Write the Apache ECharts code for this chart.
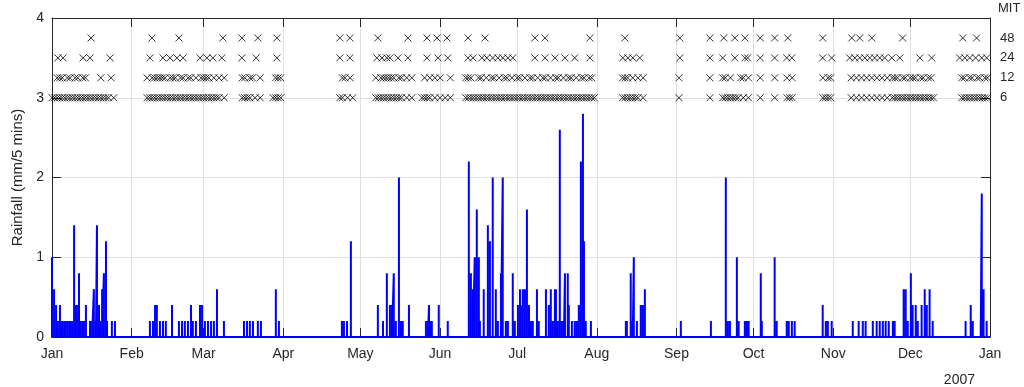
<!DOCTYPE html>
<html>
<head>
<meta charset="utf-8">
<script src="https://cdn.jsdelivr.net/npm/echarts@6/dist/echarts.min.js"></script>
<style>
  html, body { margin: 0; padding: 0; background: #fff; }
  #chart { width: 1024px; height: 387px; }
</style>
</head>
<body>
<div id="chart"></div>
<script>
// day of year 2007 (0 = 1 Jan) and rainfall in mm per 5 minutes
const rainEvents = [
  [0.0, 1.0], [0.8, 0.6], [1.6, 0.4], [2.3, 0.2], [3.1, 0.4], [3.9, 0.2], [4.7, 0.2], [5.4, 0.2],
  [6.2, 0.2], [7.0, 0.2], [7.8, 0.2], [8.6, 1.4], [9.3, 0.4], [9.7, 0.4], [10.5, 0.8], [10.9, 0.2],
  [11.7, 0.2], [12.4, 0.2], [13.2, 0.4], [14.8, 0.2], [15.6, 0.2], [16.3, 0.6], [17.1, 0.2], [17.5, 1.4],
  [18.3, 0.4], [18.7, 0.2], [19.5, 0.6], [20.2, 0.8], [21.0, 1.2], [21.4, 0.2], [23.3, 0.2], [24.5, 0.2],
  [38.1, 0.2], [39.3, 0.2], [40.1, 0.4], [40.8, 0.4], [42.0, 0.2], [43.2, 0.2], [44.3, 0.2], [46.7, 0.4],
  [49.4, 0.2], [50.6, 0.2], [51.7, 0.2], [52.9, 0.2], [54.1, 0.4], [54.8, 0.2], [56.0, 0.2], [57.6, 0.4],
  [58.4, 0.4], [59.5, 0.2], [60.7, 0.2], [61.9, 0.2], [63.0, 0.2], [64.2, 0.6], [66.9, 0.2],
  [74.7, 0.2], [75.9, 0.2], [77.0, 0.2], [78.2, 0.2], [80.1, 0.2], [81.3, 0.2], [87.1, 0.6], [88.3, 0.2],
  [112.8, 0.2], [113.6, 0.2], [114.8, 0.2], [116.3, 1.2],
  [126.8, 0.4], [128.8, 0.2], [130.3, 0.8], [131.5, 0.4], [132.3, 0.4], [133.0, 0.8], [133.8, 0.2],
  [135.0, 2.0], [135.8, 0.2], [136.5, 0.2], [138.9, 0.4], [145.5, 0.2], [146.3, 0.2], [146.7, 0.4],
  [147.4, 0.2], [147.8, 0.2], [150.5, 0.4], [154.0, 0.2],
  [162.2, 2.2], [163.0, 0.8], [163.8, 0.6], [164.5, 1.0], [165.3, 1.6], [166.1, 1.0], [166.5, 0.2],
  [168.0, 0.6], [169.6, 1.4], [170.4, 1.2], [171.5, 2.0], [172.7, 0.6], [173.5, 0.2], [174.7, 0.8],
  [175.4, 2.0], [176.6, 0.2], [177.4, 0.2], [179.3, 0.8], [180.1, 0.2], [181.3, 0.4], [182.1, 0.6],
  [182.4, 0.4], [183.2, 0.6], [184.0, 0.6], [184.8, 1.6], [185.6, 0.4], [186.3, 0.2], [187.1, 0.2],
  [188.7, 0.6], [189.4, 0.2], [192.2, 0.6], [193.3, 0.4], [194.1, 0.6], [194.9, 0.2], [195.7, 0.6],
  [196.1, 0.6], [196.8, 0.2], [197.6, 2.6], [198.4, 0.2], [199.2, 0.2], [199.6, 0.8], [200.7, 0.8],
  [201.1, 0.4], [202.3, 0.2], [203.4, 0.2], [204.2, 0.2], [205.0, 0.4], [205.8, 2.2], [206.6, 2.8],
  [207.0, 1.2], [207.7, 0.2], [209.7, 0.2],
  [223.3, 0.2], [223.7, 0.2], [225.2, 0.8], [226.0, 0.2], [226.4, 1.0], [227.6, 0.2], [229.1, 0.4],
  [229.9, 0.4], [230.7, 0.6], [244.7, 0.2], [256.4, 0.2],
  [262.2, 2.0], [263.0, 0.2], [263.8, 0.2], [266.5, 1.0], [267.2, 0.2], [269.6, 0.2], [270.4, 0.2],
  [271.1, 0.2], [275.8, 0.8], [276.2, 0.2], [281.2, 1.0], [282.0, 0.2], [285.9, 0.2], [286.7, 0.2],
  [287.9, 0.2], [289.0, 0.2],
  [299.9, 0.4], [301.1, 0.2], [301.9, 0.2], [303.4, 0.2], [311.6, 0.2], [313.9, 0.2], [315.5, 0.2],
  [316.6, 0.2], [319.4, 0.2], [320.9, 0.2], [322.1, 0.2], [323.3, 0.2], [324.4, 0.2], [325.6, 0.2],
  [327.2, 0.2], [327.9, 0.2], [331.4, 0.6], [332.2, 0.6], [333.0, 0.2], [334.2, 0.8], [334.9, 0.4],
  [336.1, 0.4], [336.9, 0.2], [338.4, 0.4], [339.6, 0.6], [340.4, 0.4], [341.5, 0.6], [342.7, 0.2],
  [355.5, 0.2], [357.5, 0.4], [358.3, 0.2], [361.4, 0.2], [361.8, 1.8], [362.5, 0.6], [363.7, 0.2]
];

// event start days for each minimum inter-event time (hours)
const mit48Days = [15.2, 38.9, 49.4, 66.5, 73.9, 80.1, 87.5, 112.0, 115.9, 126.8, 138.5, 145.9, 149.8,
  153.7, 161.9, 168.5, 187.9, 191.8, 209.3, 222.9, 244.3, 256.0, 261.4, 265.7, 269.6, 275.6, 281.2,
  286.3, 299.9, 311.2, 314.3, 319.0, 331.0, 354.4, 359.8];
const mit24Days = [2.3, 4.3, 12.1, 14.8, 22.6, 38.1, 43.2, 45.9, 48.6, 51.0, 57.6, 60.3, 62.6, 66.1,
  73.9, 79.4, 87.5, 112.0, 115.9, 126.4, 128.4, 130.3, 131.5, 134.6, 138.5, 145.9, 150.2, 154.0, 161.9,
  163.8, 167.3, 169.2, 171.5, 173.5, 175.4, 177.4, 179.3, 187.9, 191.8, 195.7, 199.6, 203.4, 209.3,
  222.1, 224.1, 226.0, 228.7, 244.3, 256.0, 261.0, 265.7, 269.6, 270.7, 275.6, 281.2, 285.9, 287.9,
  299.9, 303.4, 310.4, 312.4, 314.3, 316.3, 318.2, 320.1, 322.1, 324.0, 326.8, 329.9, 337.7, 342.3,
  353.2, 355.2, 357.1, 359.4, 361.8, 363.7];
const mit12Days = [2, 3, 4, 6, 7, 9, 10, 12, 13, 19, 23,
  37, 39, 40, 41, 42, 43, 44, 46, 47, 48, 50, 51, 53, 54, 56, 58, 59, 60, 61, 63, 65, 67,
  74, 75, 77, 78, 81, 87, 88, 89, 113, 114, 116,
  126, 128, 129, 130, 131, 132, 133, 135, 136, 138, 140, 145, 147, 149, 151, 155,
  161, 162, 163, 166, 167, 169, 171, 172, 174, 176, 177, 179, 181, 182, 184, 186, 187, 189, 191, 192,
  194, 196, 197, 199, 201, 202, 204, 206, 207, 209, 210,
  222, 223, 224, 226, 228, 230, 244, 256, 261, 262, 264, 268, 269, 271, 275.6, 281.2, 286, 288,
  300, 302, 303, 311, 313, 315, 317, 319, 321, 323, 325, 327,
  328, 329, 331, 332, 334, 335, 336, 338, 339, 341, 342, 354, 355, 357, 358, 360, 361, 363, 364];
const mit6Days = [0, 1, 2, 3, 4, 5, 6, 7, 8, 9, 10, 11, 12, 13, 14, 15, 16, 17, 18, 19, 20, 21, 22, 24,
  37, 38, 39, 40, 41, 42, 43, 44, 45, 46, 47, 48, 49, 50, 51, 52, 53, 54, 55, 56, 57, 58, 59, 60, 61,
  62, 63, 64, 65, 67, 74, 75, 76, 77, 79, 81, 86, 87, 88, 89, 112, 113, 115, 117,
  126, 127, 128, 129, 130, 131, 132, 133, 134, 135, 136, 138, 140, 144, 145, 146, 147, 149, 151, 153, 155,
  161, 162, 163, 164, 165, 166, 167, 168, 169, 170, 171, 172, 173, 174, 175, 176, 177, 178, 179, 180,
  181, 182, 183, 184, 185, 186, 187, 188, 189, 190, 191, 192, 193, 194, 195, 196, 197, 198, 199, 200,
  201, 202, 203, 204, 205, 206, 207, 208, 209, 210, 211,
  222, 223, 224, 225, 226, 227, 228, 230, 244, 256, 261, 262, 263, 264, 265, 266, 267, 269, 271,
  275.6, 281.2, 286, 287, 288, 300, 301, 302, 303,
  311, 313, 315, 317, 319, 321, 323, 325, 327, 328, 329, 330, 331, 332, 333, 334, 335, 336, 337, 338,
  339, 340, 341, 342, 343, 354, 355, 356, 357, 358, 359, 360, 361, 362, 363, 364];

const mitLevels = { 6: 3, 12: 3.25, 24: 3.5, 48: 3.75 };
const mitLabels = { 3: '6', 3.25: '12', 3.5: '24', 3.75: '48' };

const monthStarts = [0, 31, 59, 90, 120, 151, 181, 212, 243, 273, 304, 334, 365];
const monthLabels = ['Jan', 'Feb', 'Mar', 'Apr', 'May', 'Jun', 'Jul', 'Aug', 'Sep', 'Oct', 'Nov', 'Dec', 'Jan'];
const yTicks = [0, 1, 2, 3, 4];

const STEP = 5 / 1440; // one 5-minute interval in days
const rainLine = [[0, 0]];
rainEvents.forEach(([d, v]) => {
  rainLine.push([d - STEP, 0], [d, v], [d + STEP, 0]);
});
rainLine.push([365, 0]);

const FONT = 'Liberation Sans, Arial, sans-serif';
const AXIS = '#262626';
const GRID = '#dfdfdf';
const crossSymbol = 'path://M0,0L10,10M10,0L0,10';

const chart = echarts.init(document.getElementById('chart'), null, { renderer: 'canvas' });

const markerSeries = (days, level) => ({
  type: 'scatter',
  data: days.map(d => [d, level]),
  symbol: crossSymbol,
  symbolSize: 7,
  itemStyle: { color: 'rgba(0,0,0,0)', borderColor: '#000', borderWidth: 1 },
  silent: true,
  z: 3,
})

chart.setOption({
  animation: false,
  textStyle: { fontFamily: FONT },
  grid: { left: 52, right: 34, top: 18, bottom: 50 },
  xAxis: [{
    type: 'value',
    min: 0,
    max: 365,
    axisLine: { show: true, lineStyle: { color: AXIS } },
    axisTick: { inside: true, length: 9, customValues: monthStarts, lineStyle: { color: AXIS } },
    axisLabel: {
      customValues: monthStarts,
      margin: 10,
      color: AXIS,
      fontSize: 14,
      formatter: v => monthLabels[monthStarts.indexOf(v)] || '',
    },
    splitLine: { show: true, lineStyle: { color: GRID } },
  }, {
    type: 'value',
    position: 'top',
    min: 0,
    max: 365,
    axisLine: { show: true, onZero: false, lineStyle: { color: AXIS } },
    axisTick: { inside: true, length: 9, customValues: monthStarts, lineStyle: { color: AXIS } },
    axisLabel: { show: false },
    splitLine: { show: false },
  }],
  yAxis: [{
    type: 'value',
    min: 0,
    max: 4,
    interval: 1,
    name: 'Rainfall (mm/5 mins)',
    nameLocation: 'middle',
    nameGap: 27,
    nameTextStyle: { color: AXIS, fontSize: 15, fontFamily: FONT },
    axisLine: { show: true, lineStyle: { color: AXIS } },
    axisTick: { show: true, inside: true, length: 9, lineStyle: { color: AXIS } },
    axisLabel: { color: AXIS, fontSize: 14, margin: 8 },
    splitLine: { show: true, lineStyle: { color: GRID } },
  }, {
    type: 'value',
    position: 'right',
    min: 0,
    max: 4,
    name: 'MIT',
    nameLocation: 'end',
    nameGap: 3,
    nameTextStyle: { color: AXIS, fontSize: 13, align: 'left', padding: [0, 0, 0, 8] },
    axisLine: { show: true, onZero: false, lineStyle: { color: AXIS } },
    axisTick: { show: true, inside: true, length: 9, customValues: yTicks, lineStyle: { color: AXIS } },
    axisLabel: {
      customValues: [3, 3.25, 3.5, 3.75],
      color: AXIS,
      fontSize: 13,
      margin: 10,
      formatter: v => mitLabels[v] || '',
    },
    splitLine: { show: false },
  }],
  graphic: [{
    type: 'text',
    right: 49,
    bottom: 0,
    style: { text: '2007', fontSize: 14, fontFamily: FONT, fill: AXIS },
  }],
  series: [
    {
      type: 'line',
      data: rainLine,
      showSymbol: false,
      lineStyle: { color: '#0000ff', width: 2 },
      silent: true,
      z: 2,
    },
    markerSeries(mit6Days, mitLevels[6]),
    markerSeries(mit12Days, mitLevels[12]),
    markerSeries(mit24Days, mitLevels[24]),
    markerSeries(mit48Days, mitLevels[48]),
  ],
})
</script>
</body>
</html>
